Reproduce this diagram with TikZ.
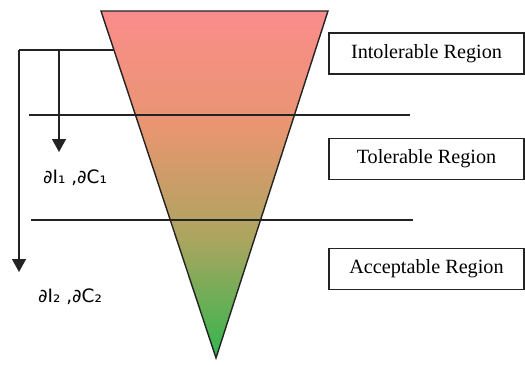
\documentclass[tikz,border=0pt]{standalone}
\usepackage{fontspec}
\setmainfont{Liberation Serif}
\newfontfamily\labfont{DejaVu Sans}
\definecolor{rzRed}{RGB}{250, 140, 140}
\definecolor{rzOrange}{RGB}{232, 150, 112}
\definecolor{rzOlive}{RGB}{170, 165, 95}
\definecolor{rzGreen}{RGB}{50, 182, 78}
\definecolor{rzLine}{RGB}{35, 35, 35}
\usetikzlibrary{arrows.meta}
\pgfdeclareverticalshading{riskfade}{100bp}{color(0bp)=(rzGreen); color(25bp)=(rzGreen); color(42bp)=(rzOlive); color(58bp)=(rzOrange); color(75bp)=(rzRed); color(100bp)=(rzRed)}
\tikzset{
  regionbox/.style={rectangle, draw=rzLine, line width=0.9pt, minimum width=3.9cm, minimum height=0.82cm, align=center, font=\fontsize{11.5}{13}\selectfont},
  deltalabel/.style={font=\labfont\fontsize{10.5}{12}\selectfont, inner sep=0pt},
  levelline/.style={draw=rzLine, line width=0.8pt},
  droparrow/.style={-{Triangle[length=2.6mm, width=2.8mm]}, line width=0.8pt, rzLine},
}

\begin{document}
\begin{tikzpicture}[x=0.02cm, y=-0.02cm]
  \useasboundingbox (0,0) rectangle (525,365);

  % Funnel
  \coordinate (tl) at (101,11);
  \coordinate (tr) at (328,11);
  \coordinate (tip) at (216,358);
  \shade[shading=riskfade] (tl) -- (tr) -- (tip) -- cycle;
  \draw[rzLine, line width=0.8pt, line join=miter] (tl) -- (tr) -- (tip) -- cycle;

  % Level lines
  \draw[levelline] (29,115) -- (410,115);
  \draw[levelline] (31,220) -- (413,220);

  % Regions
  \node[regionbox] (intol) at (426.5,53.5) {Intolerable Region};
  \node[regionbox] (toler) at (426.5,159) {Tolerable Region};
  \node[regionbox] (accep) at (426.5,269) {Acceptable Region};

  % Reductions
  \node[deltalabel] (d1) at (75,178) {∂I₁ ,∂C₁};
  \node[deltalabel] (d2) at (70,297) {∂I₂ ,∂C₂};
  \coordinate (branch) at (114,50);
  \coordinate (fork) at (59,50);
  \coordinate (corner) at (19,50);
  \coordinate (end1) at (59,152);
  \coordinate (end2) at (19,272);
  \draw[levelline] (branch) -- (corner);
  \draw[droparrow] (fork) -- (end1);
  \draw[droparrow] (corner) -- (end2);
\end{tikzpicture}
\end{document}
